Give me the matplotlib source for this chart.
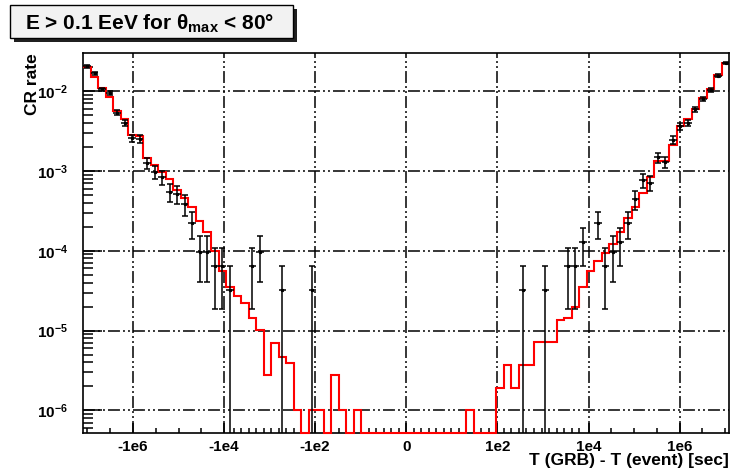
import numpy as np
import matplotlib
matplotlib.use("Agg")
import matplotlib.pyplot as plt
from matplotlib.ticker import FixedLocator, FuncFormatter, LogLocator, NullFormatter
from matplotlib.patches import Rectangle

# ---------------- data ----------------
# x axis: sign(dt) * log10|dt|, histogram of 86 equal bins over the frame
x_range = 7.09
n_bins = 86
xtick_pos = [-6, -4, -2, 0, 2, 4, 6]
xtick_labels = ["-1e6", "-1e4", "-1e2", "0", "1e2", "1e4", "1e6"]

# red histogram (expected CR rate), per bin, 0 = empty
red_rate = [
    2.0e-2, 1.48e-2, 1.10e-2, 8.5e-3, 5.6e-3, 4.5e-3, 2.8e-3, 2.7e-3, 1.45e-3, 1.17e-3,
    9.8e-4, 7.9e-4, 5.8e-4, 4.6e-4, 3.5e-4, 2.35e-4, 1.74e-4, 1.0e-4, 5.6e-5, 3.55e-5,
    2.75e-5, 2.2e-5, 1.45e-5, 1.02e-5, 2.8e-6, 7.1e-6, 4.7e-6, 3.9e-6, 1.0e-6, 0,
    1.0e-6, 1.0e-6, 0, 2.8e-6, 1.0e-6, 0, 1.0e-6, 0, 0, 0,
    0, 0, 0, 0, 0, 0, 0, 0, 0, 0,
    0, 1.0e-6, 0, 0, 0, 1.9e-6, 3.7e-6, 1.9e-6, 3.7e-6, 3.7e-6,
    7.2e-6, 7.2e-6, 7.2e-6, 1.35e-5, 1.45e-5, 2.0e-5, 3.55e-5, 5.5e-5, 7.4e-5, 9.3e-5,
    1.23e-4, 1.74e-4, 2.57e-4, 3.55e-4, 5.25e-4, 8.5e-4, 1.32e-3, 1.32e-3, 2.1e-3, 3.6e-3,
    4.4e-3, 6.0e-3, 8.1e-3, 1.07e-2, 1.58e-2, 2.24e-2,
]

# observed events per bin (black points)
black_counts = [
    640, 519, 327, 292, 168, 124, 80, 78, 39, 30,
    26, 17, 16, 12, 7, 3, 3, 2, 2, 1,
    0, 0, 2, 3, 0, 0, 1, 0, 0, 0,
    1, 0, 0, 0, 0, 0, 0, 0, 0, 0,
    0, 0, 0, 0, 0, 0, 0, 0, 0, 0,
    0, 0, 0, 0, 0, 0, 0, 0, 1, 0,
    0, 1, 0, 0, 2, 2, 4, 0, 7, 2,
    3, 4, 7, 14, 24, 22, 46, 40, 77, 113,
    124, 184, 248, 319, 484, 699,
]
rate_per_count = 3.2e-5

title_text = r"E > 0.1 EeV for θ$_{\mathbf{max}}$ < 80°"
ylabel_text = "CR rate"
xlabel_text = "T (GRB) - T (event) [sec]"

# ---------------- style ----------------
plt.rcParams["font.family"] = ["Liberation Sans", "DejaVu Sans"]
plt.rcParams["font.weight"] = "bold"
plt.rcParams["mathtext.fontset"] = "custom"
plt.rcParams["mathtext.rm"] = "Liberation Sans:bold"
plt.rcParams["mathtext.bf"] = "Liberation Sans:bold"
plt.rcParams["mathtext.it"] = "Liberation Sans:bold"
plt.rcParams["lines.scale_dashes"] = False

W, H = 731, 474
fig = plt.figure(figsize=(W / 100, H / 100), dpi=100)
fig.patch.set_facecolor("white")

L, R, T, B = 83.3, 729.3, 53.0, 432.7
ax = fig.add_axes([L / W, 1 - B / H, (R - L) / W, (B - T) / H])

ymin, ymax = 10 ** -6.278, 10 ** -1.524

edges = np.linspace(-x_range, x_range, n_bins + 1)
centers = 0.5 * (edges[:-1] + edges[1:])
bw = edges[1] - edges[0]

red = np.array(red_rate, dtype=float)
red_plot = np.where(red > 0, red, ymin)
ax.stairs(red_plot, edges, baseline=None, color="#ff0000", lw=1.5, zorder=4, clip_on=False)

cnt = np.array(black_counts, dtype=float)
m = cnt > 0
rate = cnt * rate_per_count
err = np.sqrt(cnt) * rate_per_count
lo = np.minimum(err, rate - ymin * 0.5)
ax.errorbar(centers[m], rate[m], xerr=bw / 2, fmt="none", ecolor="black",
            elinewidth=1.1, capsize=0, zorder=5)
ax.errorbar(centers[m], rate[m], yerr=[lo[m], err[m]], fmt="s", ms=1.3, color="black",
            ecolor="black", elinewidth=1.1, capsize=2.0, capthick=1.1, zorder=5)

ax.set_xlim(-x_range, x_range)
ax.set_yscale("log")
ax.set_ylim(ymin, ymax)

ax.set_xticks(xtick_pos)
ax.set_xticklabels(xtick_labels)
minor = [e for e in edges if abs(e) < 3.85 and min(abs(e - p) for p in xtick_pos) > 0.05]
minor += [h / 2 for h in range(-14, 15) if abs(h / 2) >= 3.9 and (h % 4) != 0]
ax.xaxis.set_minor_locator(FixedLocator(minor))

ax.yaxis.set_major_locator(LogLocator(base=10, numticks=20))
ax.yaxis.set_minor_locator(LogLocator(base=10, subs=np.arange(2, 10), numticks=20))
ax.yaxis.set_minor_formatter(NullFormatter())
ax.yaxis.set_major_formatter(FuncFormatter(lambda v, p: r"$\mathbf{10^{%d}}$" % round(np.log10(v))))

ax.tick_params(which="both", direction="in", top=False, right=False, colors="black")
ax.tick_params(axis="y", which="major", length=14, width=1.1, labelsize=11, pad=11)
ax.tick_params(axis="y", which="minor", length=7, width=1.1)
ax.tick_params(axis="x", which="major", length=7, width=1.1, labelsize=11, pad=5)
ax.tick_params(axis="x", which="minor", length=3.5, width=1.1)

ax.set_axisbelow(True)
ax.grid(True, which="major", color="black", lw=1.1,
        linestyle=(0, (8.6, 2.2, 1.4, 2.2, 1.4, 2.2)))
for s in ax.spines.values():
    s.set_linewidth(1.2)

# labels
fig.text(32.5 / W, 1 - 53 / H, ylabel_text, rotation=90, ha="center", va="top",
         fontsize=12.5, fontweight="bold")
fig.text(729 / W, 1 - 460 / H, xlabel_text, ha="right", va="center",
         fontsize=12.5, fontweight="bold")

# title box with shadow
bx0, by0, bx1, by1 = 10, 5, 293, 38
sh = 4
fig.patches.append(Rectangle(((bx0 + sh) / W, 1 - (by1 + sh) / H), (bx1 - bx0) / W, (by1 - by0) / H,
                             transform=fig.transFigure, facecolor="#202020", edgecolor="none", zorder=1))
fig.patches.append(Rectangle((bx0 / W, 1 - by1 / H), (bx1 - bx0) / W, (by1 - by0) / H,
                             transform=fig.transFigure, facecolor="#f2f2f2", edgecolor="black",
                             lw=1.0, zorder=2))
fig.text(25 / W, 1 - 29.3 / H, title_text, ha="left", va="baseline", fontsize=15,
         fontweight="bold", zorder=3)

fig.savefig("out.png", dpi=100)
